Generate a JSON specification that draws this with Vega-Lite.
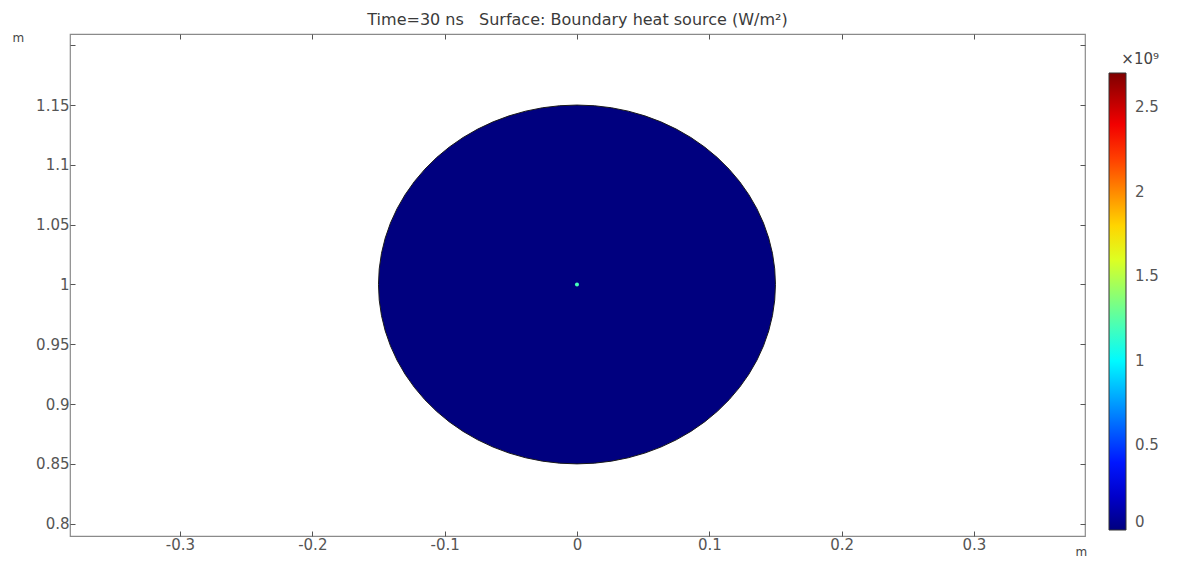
{
  "$schema": "https://vega.github.io/schema/vega-lite/v6.json",
  "width": 1015,
  "height": 502,
  "autosize": "none",
  "padding": {"left": 70, "top": 34, "right": 100, "bottom": 25},
  "background": "white",
  "title": {
    "text": "Time=30 ns\u00a0\u00a0\u00a0Surface: Boundary heat source (W/m²)",
    "font": "DejaVu Sans",
    "fontSize": 16,
    "fontWeight": "normal",
    "color": "#3a3a3a",
    "anchor": "middle",
    "offset": 3
  },
  "config": {
    "view": {"stroke": "#8a8a8a", "strokeWidth": 1.2},
    "axis": {
      "domain": false,
      "grid": false,
      "tickColor": "#555555",
      "tickSize": -5,
      "tickWidth": 1,
      "labelFont": "DejaVu Sans",
      "labelFontSize": 15,
      "labelColor": "#555555",
      "titleFont": "DejaVu Sans",
      "titleFontSize": 12,
      "titleFontWeight": "normal",
      "titleColor": "#444444"
    },
    "legend": {
      "labelFont": "DejaVu Sans",
      "labelFontSize": 15,
      "labelColor": "#555555",
      "titleFont": "DejaVu Sans",
      "titleFontSize": 15,
      "titleFontWeight": "normal",
      "titleColor": "#444444"
    }
  },
  "datasets": {
    "boundary": [
      {"i": 0, "x": 0.15, "y": 1, "q": 0},
      {"i": 1, "x": 0.14943, "y": 1.01307, "q": 0},
      {"i": 2, "x": 0.14772, "y": 1.02605, "q": 0},
      {"i": 3, "x": 0.14489, "y": 1.03882, "q": 0},
      {"i": 4, "x": 0.14095, "y": 1.0513, "q": 0},
      {"i": 5, "x": 0.13595, "y": 1.06339, "q": 0},
      {"i": 6, "x": 0.1299, "y": 1.075, "q": 0},
      {"i": 7, "x": 0.12287, "y": 1.08604, "q": 0},
      {"i": 8, "x": 0.11491, "y": 1.09642, "q": 0},
      {"i": 9, "x": 0.10607, "y": 1.10607, "q": 0},
      {"i": 10, "x": 0.09642, "y": 1.11491, "q": 0},
      {"i": 11, "x": 0.08604, "y": 1.12287, "q": 0},
      {"i": 12, "x": 0.075, "y": 1.1299, "q": 0},
      {"i": 13, "x": 0.06339, "y": 1.13595, "q": 0},
      {"i": 14, "x": 0.0513, "y": 1.14095, "q": 0},
      {"i": 15, "x": 0.03882, "y": 1.14489, "q": 0},
      {"i": 16, "x": 0.02605, "y": 1.14772, "q": 0},
      {"i": 17, "x": 0.01307, "y": 1.14943, "q": 0},
      {"i": 18, "x": 0, "y": 1.15, "q": 0},
      {"i": 19, "x": -0.01307, "y": 1.14943, "q": 0},
      {"i": 20, "x": -0.02605, "y": 1.14772, "q": 0},
      {"i": 21, "x": -0.03882, "y": 1.14489, "q": 0},
      {"i": 22, "x": -0.0513, "y": 1.14095, "q": 0},
      {"i": 23, "x": -0.06339, "y": 1.13595, "q": 0},
      {"i": 24, "x": -0.075, "y": 1.1299, "q": 0},
      {"i": 25, "x": -0.08604, "y": 1.12287, "q": 0},
      {"i": 26, "x": -0.09642, "y": 1.11491, "q": 0},
      {"i": 27, "x": -0.10607, "y": 1.10607, "q": 0},
      {"i": 28, "x": -0.11491, "y": 1.09642, "q": 0},
      {"i": 29, "x": -0.12287, "y": 1.08604, "q": 0},
      {"i": 30, "x": -0.1299, "y": 1.075, "q": 0},
      {"i": 31, "x": -0.13595, "y": 1.06339, "q": 0},
      {"i": 32, "x": -0.14095, "y": 1.0513, "q": 0},
      {"i": 33, "x": -0.14489, "y": 1.03882, "q": 0},
      {"i": 34, "x": -0.14772, "y": 1.02605, "q": 0},
      {"i": 35, "x": -0.14943, "y": 1.01307, "q": 0},
      {"i": 36, "x": -0.15, "y": 1, "q": 0},
      {"i": 37, "x": -0.14943, "y": 0.98693, "q": 0},
      {"i": 38, "x": -0.14772, "y": 0.97395, "q": 0},
      {"i": 39, "x": -0.14489, "y": 0.96118, "q": 0},
      {"i": 40, "x": -0.14095, "y": 0.9487, "q": 0},
      {"i": 41, "x": -0.13595, "y": 0.93661, "q": 0},
      {"i": 42, "x": -0.1299, "y": 0.925, "q": 0},
      {"i": 43, "x": -0.12287, "y": 0.91396, "q": 0},
      {"i": 44, "x": -0.11491, "y": 0.90358, "q": 0},
      {"i": 45, "x": -0.10607, "y": 0.89393, "q": 0},
      {"i": 46, "x": -0.09642, "y": 0.88509, "q": 0},
      {"i": 47, "x": -0.08604, "y": 0.87713, "q": 0},
      {"i": 48, "x": -0.075, "y": 0.8701, "q": 0},
      {"i": 49, "x": -0.06339, "y": 0.86405, "q": 0},
      {"i": 50, "x": -0.0513, "y": 0.85905, "q": 0},
      {"i": 51, "x": -0.03882, "y": 0.85511, "q": 0},
      {"i": 52, "x": -0.02605, "y": 0.85228, "q": 0},
      {"i": 53, "x": -0.01307, "y": 0.85057, "q": 0},
      {"i": 54, "x": 0, "y": 0.85, "q": 0},
      {"i": 55, "x": 0.01307, "y": 0.85057, "q": 0},
      {"i": 56, "x": 0.02605, "y": 0.85228, "q": 0},
      {"i": 57, "x": 0.03882, "y": 0.85511, "q": 0},
      {"i": 58, "x": 0.0513, "y": 0.85905, "q": 0},
      {"i": 59, "x": 0.06339, "y": 0.86405, "q": 0},
      {"i": 60, "x": 0.075, "y": 0.8701, "q": 0},
      {"i": 61, "x": 0.08604, "y": 0.87713, "q": 0},
      {"i": 62, "x": 0.09642, "y": 0.88509, "q": 0},
      {"i": 63, "x": 0.10607, "y": 0.89393, "q": 0},
      {"i": 64, "x": 0.11491, "y": 0.90358, "q": 0},
      {"i": 65, "x": 0.12287, "y": 0.91396, "q": 0},
      {"i": 66, "x": 0.1299, "y": 0.925, "q": 0},
      {"i": 67, "x": 0.13595, "y": 0.93661, "q": 0},
      {"i": 68, "x": 0.14095, "y": 0.9487, "q": 0},
      {"i": 69, "x": 0.14489, "y": 0.96118, "q": 0},
      {"i": 70, "x": 0.14772, "y": 0.97395, "q": 0},
      {"i": 71, "x": 0.14943, "y": 0.98693, "q": 0},
      {"i": 72, "x": 0.15, "y": 1, "q": 0}
    ],
    "source": [
      {"x": 0, "y": 1, "q": 1200000000}
    ]
  },
  "layer": [
    {
      "data": {"name": "boundary"},
      "mark": {"type": "line", "stroke": "#1a1a1a", "strokeWidth": 1, "interpolate": "linear"},
      "encoding": {
        "x": {
          "field": "x", "type": "quantitative",
          "scale": {"domain": [-0.3831, 0.3839], "nice": false, "zero": false},
          "axis": {
            "orient": "bottom",
            "values": [-0.3, -0.2, -0.1, 0, 0.1, 0.2, 0.3],
            "labelExpr": "'' + datum.value",
            "labelPadding": 6,
            "title": "m",
            "titleX": 1005,
            "titleY": 15,
            "titleAlign": "left",
            "titleBaseline": "middle",
            "titleAngle": 0
          }
        },
        "y": {
          "field": "y", "type": "quantitative",
          "scale": {"domain": [0.7897, 1.2094], "nice": false, "zero": false},
          "axis": {
            "orient": "left",
            "values": [0.8, 0.85, 0.9, 0.95, 1, 1.05, 1.1, 1.15, 1.2],
            "labelExpr": "datum.value > 1.19 ? '' : '' + datum.value",
            "labelPadding": 6,
            "title": "m",
            "titleX": -58,
            "titleY": 3,
            "titleAlign": "left",
            "titleBaseline": "middle",
            "titleAngle": 0
          }
        },
        "order": {"field": "i", "type": "quantitative"},
        "fill": {
          "field": "q", "type": "quantitative",
          "scale": {
            "domain": [0, 2704000000],
            "range": ["#00007f", "#0000ff", "#007fff", "#00ffff", "#7fff7f", "#ffff00", "#ff7f00", "#ff0000", "#7f0000"],
            "interpolate": "rgb"
          },
          "legend": {
            "orient": "none",
            "legendX": 1039,
            "legendY": 18,
            "direction": "vertical",
            "gradientLength": 457,
            "gradientThickness": 17,
            "gradientStrokeColor": "#333333",
            "gradientStrokeWidth": 1,
            "values": [0, 500000000, 1000000000, 1500000000, 2000000000, 2500000000],
            "labelExpr": "'' + (datum.value / 1000000000)",
            "labelOffset": 9,
            "title": "×10⁹",
            "titleAnchor": "end",
            "titlePadding": 6
          }
        }
      }
    },
    {
      "data": {"name": "source"},
      "mark": {"type": "point", "shape": "circle", "filled": true, "size": 16, "opacity": 1},
      "encoding": {
        "x": {
          "field": "x", "type": "quantitative",
          "axis": {"orient": "top", "values": [-0.3, -0.2, -0.1, 0, 0.1, 0.2, 0.3], "labels": false, "title": null}
        },
        "y": {
          "field": "y", "type": "quantitative",
          "axis": {"orient": "right", "values": [0.8, 0.85, 0.9, 0.95, 1, 1.05, 1.1, 1.15, 1.2], "labels": false, "title": null}
        },
        "fill": {"field": "q", "type": "quantitative"}
      }
    }
  ],
  "resolve": {"axis": {"x": "independent", "y": "independent"}}
}
